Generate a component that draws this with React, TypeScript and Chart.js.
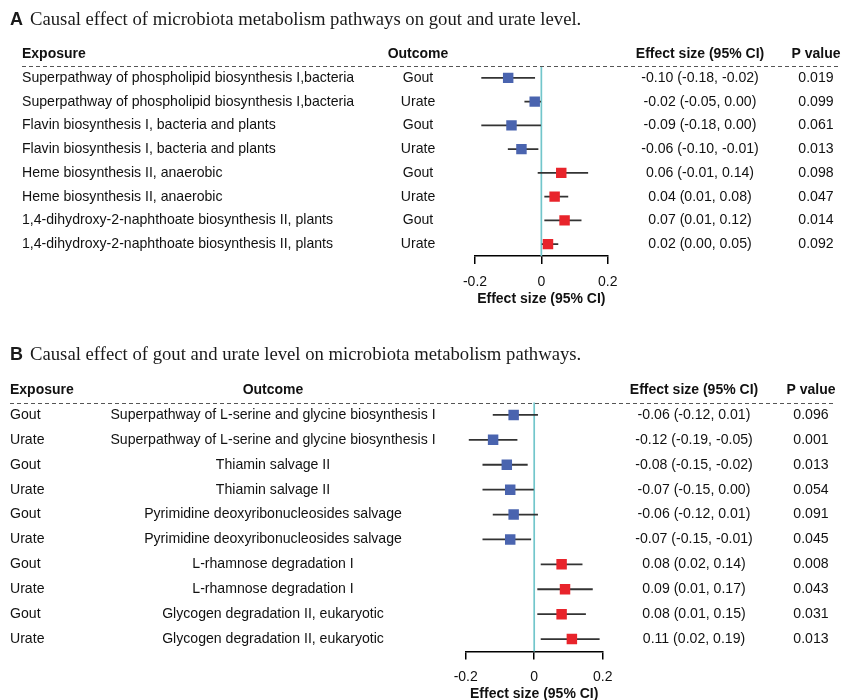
import React, { useEffect, useRef } from "react";
import { Chart, registerables } from "chart.js";

Chart.register(...registerables);

// ---------- shared axis ----------
const xTicks = [-0.2, 0, 0.2];
const xTickLabels = ["-0.2", "0", "0.2"];
const axisTitle = "Effect size (95% CI)";
const headerExposure = "Exposure";
const headerOutcome = "Outcome";
const headerEffect = "Effect size (95% CI)";
const headerP = "P value";

// ---------- Panel A ----------
const letterA = "A";
const titleA = "Causal effect of microbiota metabolism pathways on gout and urate level.";
const exposureA = [
  "Superpathway of phospholipid biosynthesis I,bacteria",
  "Superpathway of phospholipid biosynthesis I,bacteria",
  "Flavin biosynthesis I, bacteria and plants",
  "Flavin biosynthesis I, bacteria and plants",
  "Heme biosynthesis II, anaerobic",
  "Heme biosynthesis II, anaerobic",
  "1,4-dihydroxy-2-naphthoate biosynthesis II, plants",
  "1,4-dihydroxy-2-naphthoate biosynthesis II, plants",
];
const outcomeA = ["Gout", "Urate", "Gout", "Urate", "Gout", "Urate", "Gout", "Urate"];
const estA = [-0.10, -0.02, -0.09, -0.06, 0.06, 0.04, 0.07, 0.02];
const lowA = [-0.18, -0.05, -0.18, -0.10, -0.01, 0.01, 0.01, 0.00];
const highA = [-0.02, 0.00, 0.00, -0.01, 0.14, 0.08, 0.12, 0.05];
const pA = ["0.019", "0.099", "0.061", "0.013", "0.098", "0.047", "0.014", "0.092"];

// ---------- Panel B ----------
const letterB = "B";
const titleB = "Causal effect of gout and urate level on microbiota metabolism pathways.";
const exposureB = ["Gout", "Urate", "Gout", "Urate", "Gout", "Urate", "Gout", "Urate", "Gout", "Urate"];
const outcomeB = [
  "Superpathway of L-serine and glycine biosynthesis I",
  "Superpathway of L-serine and glycine biosynthesis I",
  "Thiamin salvage II",
  "Thiamin salvage II",
  "Pyrimidine deoxyribonucleosides salvage",
  "Pyrimidine deoxyribonucleosides salvage",
  "L-rhamnose degradation I",
  "L-rhamnose degradation I",
  "Glycogen degradation II, eukaryotic",
  "Glycogen degradation II, eukaryotic",
];
const estB = [-0.06, -0.12, -0.08, -0.07, -0.06, -0.07, 0.08, 0.09, 0.08, 0.11];
const lowB = [-0.12, -0.19, -0.15, -0.15, -0.12, -0.15, 0.02, 0.01, 0.01, 0.02];
const highB = [0.01, -0.05, -0.02, 0.00, 0.01, -0.01, 0.14, 0.17, 0.15, 0.19];
const pB = ["0.096", "0.001", "0.013", "0.054", "0.091", "0.045", "0.008", "0.043", "0.031", "0.013"];

// ---------- styles ----------
const SANS = "'Liberation Sans', Arial, Helvetica, sans-serif";
const SERIF = "'Liberation Serif', 'Times New Roman', serif";
const BLUE = "#4A64AF";
const RED = "#E8242B";
const CI_COLOR = "#333333";
const CYAN = "#72C6CB";
const TEXT = "#111111";

const effectText = (e: number, l: number, h: number) =>
  `${e.toFixed(2)} (${l.toFixed(2)}, ${h.toFixed(2)})`;

type Col = { header: string; values: string[]; x: number; align: CanvasTextAlign };
type Spec = {
  top: number;
  height: number;
  letter: string;
  title: string;
  titleBaseline: number;
  labels: string[];
  est: number[];
  low: number[];
  high: number[];
  cols: Col[];
  dashX1: number;
  dashX2: number;
  padding: { left: number; right: number; top: number; bottom: number };
  axisH: number;
};

const W = 843;

const specA: Spec = {
  top: 0,
  height: 330,
  letter: letterA,
  title: titleA,
  titleBaseline: 25,
  labels: exposureA.map((e, i) => `${e} | ${outcomeA[i]}`),
  est: estA,
  low: lowA,
  high: highA,
  cols: [
    { header: headerExposure, values: exposureA, x: 22, align: "left" },
    { header: headerOutcome, values: outcomeA, x: 418, align: "center" },
    { header: headerEffect, values: estA.map((e, i) => effectText(e, lowA[i], highA[i])), x: 700, align: "center" },
    { header: headerP, values: pA, x: 816, align: "center" },
  ],
  dashX1: 22,
  dashX2: 840,
  padding: { left: 475, right: W - 607.7, top: 66, bottom: 22.6 },
  axisH: 51.4,
};

const specB: Spec = {
  top: 330,
  height: 380,
  letter: letterB,
  title: titleB,
  titleBaseline: 29.5,
  labels: exposureB.map((e, i) => `${e} | ${outcomeB[i]}`),
  est: estB,
  low: lowB,
  high: highB,
  cols: [
    { header: headerExposure, values: exposureB, x: 10, align: "left" },
    { header: headerOutcome, values: outcomeB, x: 273, align: "center" },
    { header: headerEffect, values: estB.map((e, i) => effectText(e, lowB[i], highB[i])), x: 694, align: "center" },
    { header: headerP, values: pB, x: 811, align: "center" },
  ],
  dashX1: 10,
  dashX2: 835,
  padding: { left: 465.7, right: W - 602.7, top: 72.5, bottom: 7.6 },
  axisH: 50.9,
};

function makePlugin(spec: Spec) {
  return {
    id: "forestTable",
    beforeDatasetsDraw(chart: any) {
      const { ctx, chartArea, scales } = chart;
      const zx = scales.x.getPixelForValue(0);
      ctx.save();
      ctx.strokeStyle = CYAN;
      ctx.lineWidth = 1.7;
      ctx.beginPath();
      ctx.moveTo(zx, chartArea.top);
      ctx.lineTo(zx, chartArea.bottom);
      ctx.stroke();
      ctx.restore();
    },
    afterDraw(chart: any) {
      const { ctx, chartArea, scales } = chart;
      const y = scales.y;
      ctx.save();
      // title
      ctx.fillStyle = "#1a1a1a";
      ctx.textBaseline = "alphabetic";
      ctx.textAlign = "left";
      ctx.font = `bold 18px ${SANS}`;
      ctx.fillText(spec.letter, 10, spec.titleBaseline);
      ctx.font = `18.7px ${SERIF}`;
      ctx.fillText(spec.title, 30, spec.titleBaseline);

      // dashed rule under header
      ctx.strokeStyle = "#555";
      ctx.lineWidth = 1;
      ctx.setLineDash([4, 3]);
      ctx.beginPath();
      const dy = Math.round(chartArea.top) + 0.5;
      ctx.moveTo(spec.dashX1, dy);
      ctx.lineTo(spec.dashX2, dy);
      ctx.stroke();
      ctx.setLineDash([]);

      // header + columns
      ctx.fillStyle = TEXT;
      ctx.textBaseline = "middle";
      const hy = y.getPixelForValue(-1);
      for (const col of spec.cols) {
        ctx.textAlign = col.align;
        ctx.font = `bold 14px ${SANS}`;
        ctx.fillText(col.header, col.x, hy);
        ctx.font = `14.1px ${SANS}`;
        col.values.forEach((v, i) => {
          ctx.fillText(v, col.x, y.getPixelForValue(i));
        });
      }
      ctx.restore();
    },
  };
}

function ForestPanel({ spec }: { spec: Spec }) {
  const ref = useRef<HTMLCanvasElement | null>(null);
  useEffect(() => {
    if (!ref.current) return;
    const chart = new Chart(ref.current, {
      type: "bar",
      data: {
        labels: spec.labels,
        datasets: [
          {
            type: "scatter",
            data: spec.est.map((v, i) => ({ x: v, y: spec.labels[i] })),
            pointStyle: "rect",
            pointRadius: 7.4,
            pointBackgroundColor: spec.est.map((v) => (v < 0 ? BLUE : RED)),
            pointBorderColor: spec.est.map((v) => (v < 0 ? BLUE : RED)),
            pointBorderWidth: 0,
          } as any,
          {
            type: "bar",
            data: spec.low.map((l, i) => [l, spec.high[i]]),
            backgroundColor: CI_COLOR,
            borderWidth: 0,
            barThickness: 1.1,
          } as any,
        ],
      },
      options: {
        indexAxis: "y",
        responsive: false,
        animation: false,
        devicePixelRatio: 1,
        events: [],
        layout: { padding: spec.padding },
        plugins: { legend: { display: false }, tooltip: { enabled: false } },
        scales: {
          y: { type: "category", display: false, offset: true },
          x: {
            type: "linear",
            min: -0.2,
            max: 0.2,
            afterBuildTicks: (s: any) => {
              s.ticks = xTicks.map((v) => ({ value: v }));
            },
            afterFit: (s: any) => {
              s.height = spec.axisH;
            },
            ticks: {
              callback: (_v: any, i: number) => xTickLabels[i],
              font: { family: SANS, size: 14 },
              color: TEXT,
              padding: 9.5,
              maxRotation: 0,
              autoSkip: false,
            },
            grid: { drawOnChartArea: false, drawTicks: true, tickLength: 8, color: "#000", lineWidth: 1.5 },
            border: { display: true, color: "#000", width: 1.5 },
            title: {
              display: true,
              text: axisTitle,
              font: { family: SANS, size: 14, weight: "bold" },
              color: TEXT,
              padding: 0,
            },
          },
        },
      } as any,
      plugins: [makePlugin(spec)],
    });
    return () => chart.destroy();
  }, [spec]);
  return (
    <canvas
      ref={ref}
      width={W}
      height={spec.height}
      style={{ position: "absolute", left: 0, top: spec.top, width: W, height: spec.height }}
    />
  );
}

export default function App() {
  return (
    <div
      style={{
        position: "absolute",
        left: 0,
        top: 0,
        width: W,
        height: 700,
        overflow: "hidden",
        background: "#fff",
      }}
    >
      <ForestPanel spec={specA} />
      <ForestPanel spec={specB} />
    </div>
  );
}
